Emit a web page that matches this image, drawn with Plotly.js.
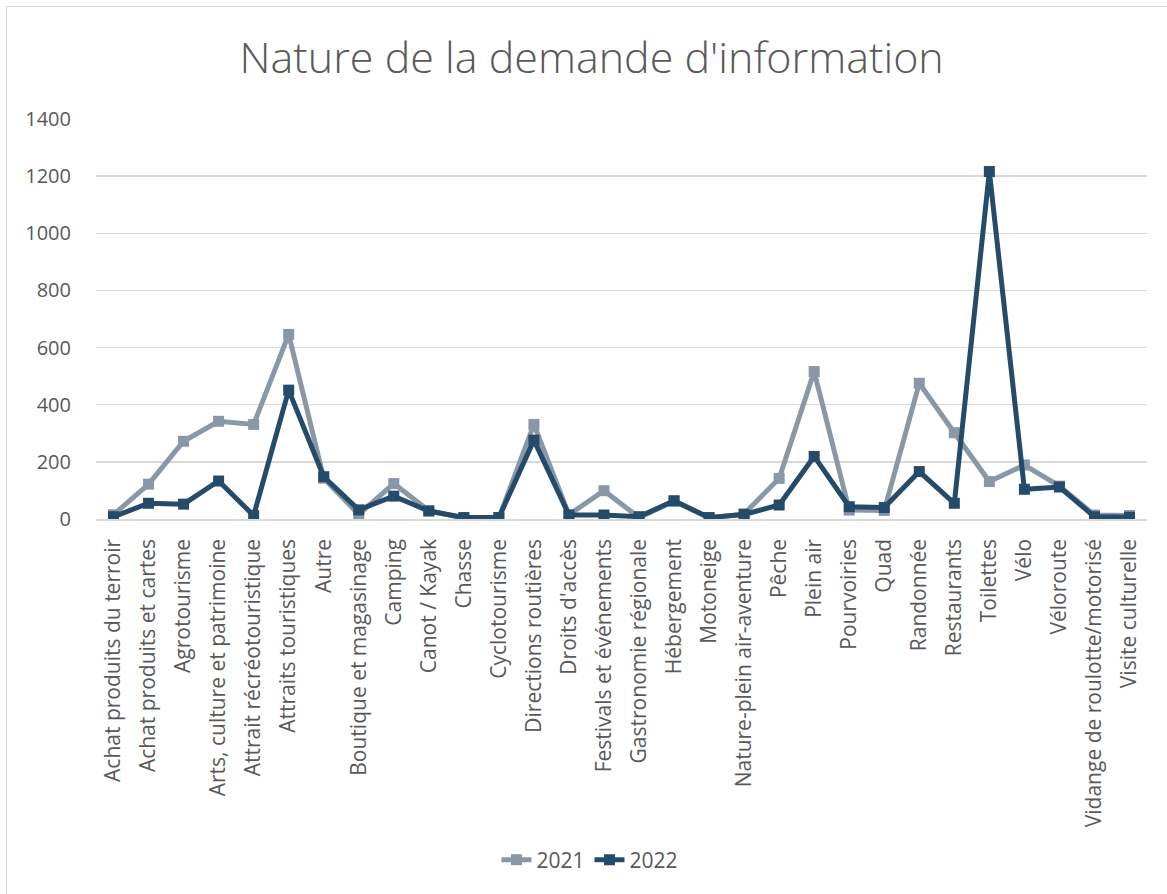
<!DOCTYPE html>
<html>
<head>
<meta charset="utf-8">
<script src="https://cdn.plot.ly/plotly-3.0.1.min.js"></script>
<style>
html,body{margin:0;padding:0;background:#fff;overflow:hidden;}
#frame{position:absolute;left:6px;top:6px;width:1170px;height:900px;border:1.5px solid #d9d9d9;box-sizing:border-box;pointer-events:none;z-index:10;}
#chart{position:absolute;left:0;top:0;width:1167px;height:894px;}
</style>
</head>
<body>
<div id="chart"></div>
<div id="frame"></div>
<script>
const categories = [
  "Achat produits du terroir","Achat produits et cartes","Agrotourisme","Arts, culture et patrimoine",
  "Attrait récréotouristique","Attraits touristiques","Autre","Boutique et magasinage","Camping",
  "Canot / Kayak","Chasse","Cyclotourisme","Directions routières","Droits d'accès",
  "Festivals et événements","Gastronomie régionale","Hébergement","Motoneige",
  "Nature-plein air-aventure","Pêche","Plein air","Pourvoiries","Quad","Randonnée",
  "Restaurants","Toilettes","Vélo","Véloroute","Vidange de roulotte/motorisé","Visite culturelle"
];
const values2021 = [15,122,272,342,331,646,143,16,124,29,3,4,331,15,99,5,62,4,18,142,516,31,30,475,302,131,189,115,14,12];
const values2022 = [8,55,52,133,12,451,148,32,80,28,5,5,276,14,14,8,64,5,16,49,219,43,40,166,55,1216,104,112,8,6];
const yTicks = [0,200,400,600,800,1000,1200,1400];

const traces = [
  {x: categories, y: values2021, name: "2021", type: "scatter", mode: "lines+markers",
   line: {color: "#8a97a7", width: 5}, marker: {symbol: "square", size: 11, color: "#8a97a7"}},
  {x: categories, y: values2022, name: "2022", type: "scatter", mode: "lines+markers",
   line: {color: "#244b69", width: 5}, marker: {symbol: "square", size: 11, color: "#244b69"}}
];

const layout = {
  width: 1167, height: 894,
  paper_bgcolor: "#ffffff", plot_bgcolor: "#ffffff",
  margin: {l: 95.5, r: 19.5, t: 119, b: 375},
  font: {family: "Open Sans, sans-serif", color: "#595959", size: 21},
  title: {text: "Nature de la demande d'information", x: 0.507, xref: "container", xanchor: "center",
          y: 0.935, yref: "container", yanchor: "middle",
          font: {family: "Open Sans, sans-serif", size: 43, color: "#595959", weight: 300}},
  xaxis: {type: "category", range: [-0.5, categories.length - 0.5], autorange: false,
          tickangle: -90, showgrid: false, zeroline: false,
          showline: true, linecolor: "#d9d9d9", linewidth: 1.5,
          ticks: "outside", ticklen: 10, tickcolor: "rgba(0,0,0,0)",
          tickfont: {size: 21, color: "#595959"}, fixedrange: true},
  yaxis: {range: [0, 1400], autorange: false, tickvals: yTicks, ticktext: yTicks.map(String),
          showgrid: true, gridcolor: "#d9d9d9", gridwidth: 1.5, zeroline: false, showline: false,
          ticks: "outside", ticklen: 20, tickcolor: "rgba(0,0,0,0)",
          tickfont: {size: 20, color: "#595959"}, fixedrange: true},
  showlegend: true,
  legend: {orientation: "h", x: 0.47, xanchor: "center", y: -0.8525, yanchor: "middle",
           font: {size: 21, color: "#595959"}, itemwidth: 30, tracegroupgap: 0}
};

Plotly.newPlot("chart", traces, layout, {displayModeBar: false, staticPlot: true});
</script>
</body>
</html>
